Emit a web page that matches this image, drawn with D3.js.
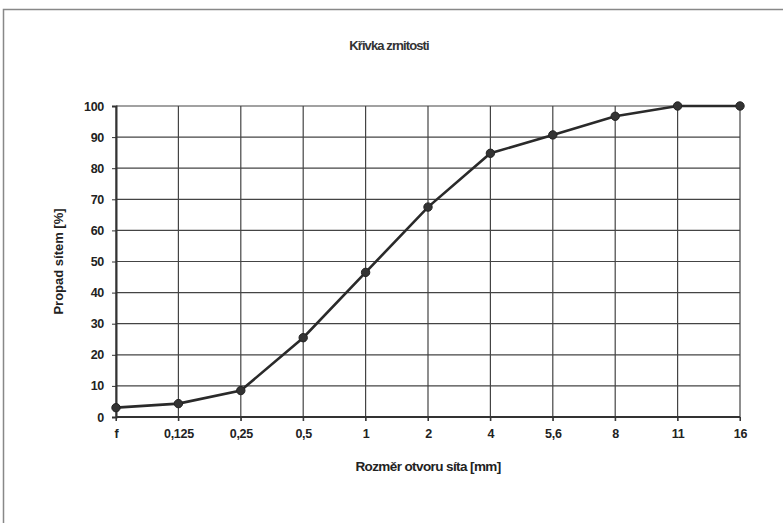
<!DOCTYPE html>
<html><head><meta charset="utf-8">
<script src="https://cdn.jsdelivr.net/npm/d3@7"></script>
<style>body{margin:0;background:#fff}svg{display:block}text{font-family:"Liberation Sans",Arial,sans-serif}</style>
</head><body>
<script>
const categories = ["f","0,125","0,25","0,5","1","2","4","5,6","8","11","16"];
const passing = [3, 4.3, 8.5, 25.5, 46.5, 67.5, 84.8, 90.7, 96.7, 100, 100];
const yTicks = [0,10,20,30,40,50,60,70,80,90,100];
const title = "Křivka zrnitosti";
const xTitle = "Rozměr otvoru síta [mm]";
const yTitle = "Propad sítem [%]";

const W = 783, H = 523;
const svg = d3.select("body").append("svg").attr("width", W).attr("height", H);
const m = {left:116, right:740, top:106, bottom:417};

svg.append("rect").attr("x",3.5).attr("y",9.5).attr("width",W+10).attr("height",H+10)
  .attr("fill","none").attr("stroke","#888").attr("stroke-width",1.5);

const x = d3.scalePoint().domain(categories).range([m.left, m.right]);
const y = d3.scaleLinear().domain([0,100]).range([m.bottom, m.top]);

const g = svg.append("g");
g.selectAll(".hg").data(yTicks).join("line")
  .attr("x1", m.left).attr("x2", m.right)
  .attr("y1", d=>y(d)).attr("y2", d=>y(d))
  .attr("stroke","#444").attr("stroke-width",1.2);
g.selectAll(".vg").data(categories).join("line")
  .attr("x1", d=>x(d)).attr("x2", d=>x(d))
  .attr("y1", m.top).attr("y2", m.bottom+4)
  .attr("stroke","#444").attr("stroke-width",1.2);

const yAxis = d3.axisLeft(y).tickValues(yTicks).tickSize(4).tickPadding(8);
const ya = svg.append("g").attr("transform",`translate(${m.left},0)`).call(yAxis);
ya.select(".domain").attr("stroke","#333").attr("stroke-width",2);
ya.selectAll(".tick line").attr("stroke","#333");
ya.selectAll("text").attr("font-size",12.5).attr("font-weight","bold").attr("fill","#222").attr("letter-spacing","-0.3");

const xAxis = d3.axisBottom(x).tickSize(4).tickPadding(8);
const xa = svg.append("g").attr("transform",`translate(0,${m.bottom})`).call(xAxis);
xa.select(".domain").attr("stroke","#333").attr("stroke-width",2).attr("d",`M${m.left},0H${m.right}`);
xa.selectAll(".tick line").attr("stroke","#333");
xa.selectAll("text").attr("font-size",12.5).attr("font-weight","bold").attr("fill","#222").attr("letter-spacing","-0.3");

const line = d3.line().x((d,i)=>x(categories[i])).y(d=>y(d));
svg.append("path").datum(passing).attr("d",line)
  .attr("fill","none").attr("stroke","#2a2a2a").attr("stroke-width",2.6);
svg.selectAll(".pt").data(passing).join("circle")
  .attr("cx",(d,i)=>x(categories[i])).attr("cy",d=>y(d)).attr("r",4.2)
  .attr("fill","#333").attr("stroke","#222");

svg.append("text").attr("x",389).attr("y",50).attr("text-anchor","middle")
  .attr("font-size",13).attr("font-weight","bold").attr("fill","#333")
  .attr("letter-spacing","-0.9").text(title);
svg.append("text").attr("x",428).attr("y",471).attr("text-anchor","middle")
  .attr("font-size",13.5).attr("font-weight","bold").attr("fill","#222")
  .attr("letter-spacing","-0.6").text(xTitle);
svg.append("text").attr("transform",`translate(63,${(m.top+m.bottom)/2}) rotate(-90)`)
  .attr("text-anchor","middle").attr("font-size",13).attr("font-weight","bold").attr("fill","#222")
  .text(yTitle);
</script>
</body></html>
